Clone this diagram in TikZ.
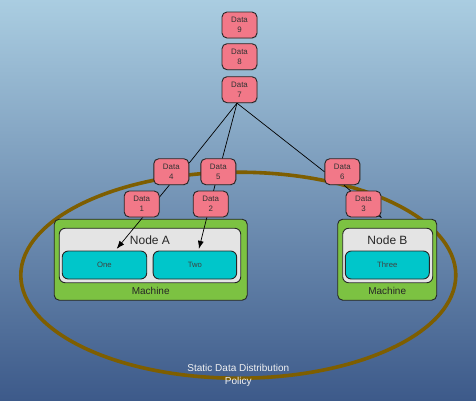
\documentclass[tikz,border=0pt]{standalone}
\usepackage{fontspec}
\setmainfont{Liberation Sans}
\usetikzlibrary{arrows.meta,shadows}
\definecolor{bgtop}{HTML}{AACDE1}
\definecolor{bgmid}{HTML}{7393B5}
\definecolor{bgbot}{HTML}{3D5A8A}
\definecolor{datapink}{HTML}{F27888}
\definecolor{machgreen}{HTML}{7CC242}
\definecolor{nodegray}{HTML}{E4E4E4}
\definecolor{partcyan}{HTML}{00C6CA}
\definecolor{olive}{HTML}{7E5E00}
\tikzset{
  databox/.style={draw=black!85, line width=0.9pt, fill=datapink, rounded corners=5pt,
    minimum width=35pt, minimum height=26pt, inner sep=0pt, align=center,
    font=\fontsize{7.9}{9.6}\selectfont, text=black!80,
    drop shadow={opacity=0.3, shadow xshift=0.8pt, shadow yshift=-0.8pt}},
  machinebox/.style={draw=black!85, line width=0.9pt, fill=machgreen, rounded corners=5pt, inner sep=0pt},
  nodebox/.style={draw=black!85, line width=0.9pt, fill=nodegray, rounded corners=6pt, inner sep=0pt},
  partbox/.style={draw=black!85, line width=0.9pt, fill=partcyan, rounded corners=6pt, inner sep=0pt,
    minimum height=28pt, font=\fontsize{7.7}{9}\selectfont, text=black!75},
  lbl/.style={inner sep=0pt},
  link/.style={draw=black, line width=0.7pt},
  arr/.style={link, -{Latex[length=8pt,width=6pt]}}
}
\begin{document}
\begin{tikzpicture}[x=1pt,y=-1pt]
\useasboundingbox (0,0) rectangle (476,400);
\shade[top color=bgtop, middle color=bgmid, bottom color=bgbot] (0,0) rectangle (476,400);
% policy ellipse
\draw[olive, line width=3.6pt] (238.3,275.2) ellipse [x radius=217.5pt, y radius=103pt];
% machines
\node[machinebox, minimum width=193pt, minimum height=81pt] (mA) at (150.7,259.7) {};
\node[machinebox, minimum width=99pt, minimum height=81pt] (mB) at (387.2,259.7) {};
\node[nodebox, minimum width=181.5pt, minimum height=54.5pt] (nA) at (150,255.5) {};
\node[nodebox, minimum width=90pt, minimum height=54.5pt] (nB) at (387.7,255.5) {};
\node[lbl, font=\fontsize{12}{14}\selectfont, text=black!85] (nAl) at (150,240) {Node A};
\node[lbl, font=\fontsize{12}{14}\selectfont, text=black!85] (nBl) at (387.5,240) {Node B};
\node[lbl, font=\fontsize{10}{11}\selectfont, text=black!85] (mAl) at (150.7,290.5) {Machine};
\node[lbl, font=\fontsize{10}{11}\selectfont, text=black!85] (mBl) at (387.2,290.5) {Machine};
\node[partbox, minimum width=84.5pt] (one) at (104.5,265) {One};
\node[partbox, minimum width=83.5pt] (two) at (194.9,265) {Two};
\node[partbox, minimum width=84pt] (three) at (387.3,265) {Three};
% policy label
\node[lbl, align=center, text=white!95!black, font=\fontsize{10}{13}\selectfont] (pol) at (238.3,375.8)
  {Static Data Distribution\\Policy};
% data nodes
\node[databox] (d9) at (239.5,25) {Data\\9};
\node[databox] (d8) at (239.5,56.7) {Data\\8};
\node[databox] (d7) at (239.5,89.7) {Data\\7};
\node[databox] (d4) at (171.3,171.7) {Data\\4};
\node[databox] (d5) at (218.3,171.7) {Data\\5};
\node[databox] (d6) at (342.3,171.7) {Data\\6};
\coordinate (d7out) at ([xshift=-2.5pt]d7.south);
% connectors
\draw[link] (d7out) -- (d4.26);
\draw[link] (d7out) -- (d5.73);
\draw[link] (d7out) -- (d6.west);
\draw[arr] ([xshift=-2pt]d4.south) -- ([xshift=12.2pt,yshift=1.7pt]one.north);
\draw[arr] ([xshift=-3.3pt]d5.south) -- ([xshift=4pt,yshift=1.7pt]two.north);
\draw[arr] ([xshift=1.7pt]d6.south) -- ([xshift=-5.2pt,yshift=0.6pt]mB.north);
% data nodes in front of connectors
\node[databox] (d1) at (141.7,204) {Data\\1};
\node[databox] (d2) at (210.7,204) {Data\\2};
\node[databox] (d3) at (363.5,204) {Data\\3};
\end{tikzpicture}
\end{document}
